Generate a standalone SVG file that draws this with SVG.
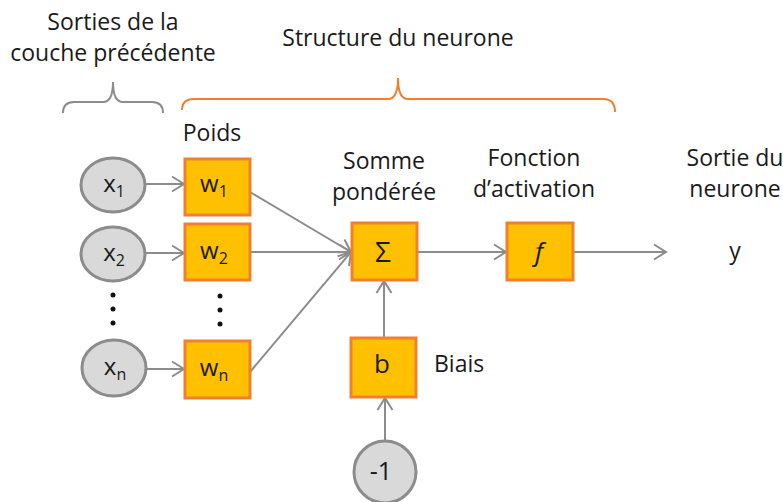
<svg xmlns="http://www.w3.org/2000/svg" width="783" height="502" viewBox="0 0 783 502">
<defs>
<marker id="ah" markerWidth="18" markerHeight="18" refX="14" refY="9" orient="auto" markerUnits="userSpaceOnUse">
<path d="M2,1.5 L14,9 L2,16.5" fill="none" stroke="#8c8c8c" stroke-width="2"/>
</marker>
<style>
.t{font-family:"Open Sans","Liberation Sans",sans-serif;font-size:23px;fill:#1a1a1a}
.n{font-family:"Open Sans","Liberation Sans",sans-serif;font-size:23px;fill:#1a1a1a;text-anchor:middle}
.v{font-family:"Open Sans","Liberation Sans",sans-serif;font-size:24px;fill:#1a1a1a;text-anchor:middle}
.s{font-size:16px}
.box{fill:#FFC000;stroke:#F08030;stroke-width:3}
.circ{fill:#D9D9D9;stroke:#8c8c8c;stroke-width:3}
.c{fill:none;stroke:#8c8c8c;stroke-width:2}
.dot{fill:#111}
</style>
</defs>
<rect width="783" height="502" fill="#fff"/>
<g id="labels">
<text class="n" x="113" y="30">Sorties de la</text>
<text class="n" x="113" y="61">couche précédente</text>
<text class="n" x="398" y="46">Structure du neurone</text>
<text class="n" x="212" y="141">Poids</text>
<text class="n" x="384" y="169">Somme</text>
<text class="n" x="384" y="200">pondérée</text>
<text class="n" x="534" y="166">Fonction</text>
<text class="n" x="534" y="197">d’activation</text>
<text class="n" x="735" y="166">Sortie du</text>
<text class="n" x="735" y="197">neurone</text>
<text class="t" x="434" y="372">Biais</text>
<text class="n" x="735" y="259">y</text>
</g>
<g id="braces">
<path d="M63,113 Q63,102 74,102 L103,102 Q113,102 113,82 Q113,102 123,102 L152,102 Q163,102 163,113" fill="none" stroke="#8c8c8c" stroke-width="2"/>
<path d="M182,110 Q182,99 194,99 L388,99 Q398,99 398,78 Q398,99 408,99 L603,99 Q615,99 615,112" fill="none" stroke="#F08030" stroke-width="2"/>
</g>
<g id="connectors">
<line class="c" x1="145" y1="184" x2="184" y2="184" marker-end="url(#ah)"/>
<line class="c" x1="145" y1="253" x2="184" y2="253" marker-end="url(#ah)"/>
<line class="c" x1="147" y1="369" x2="184" y2="369" marker-end="url(#ah)"/>
<line class="c" x1="250" y1="192" x2="351" y2="252" marker-end="url(#ah)"/>
<line class="c" x1="250" y1="252" x2="351" y2="252" marker-end="url(#ah)"/>
<line class="c" x1="250" y1="372" x2="351" y2="252" marker-end="url(#ah)"/>
<line class="c" x1="417" y1="252" x2="506" y2="252" marker-end="url(#ah)"/>
<line class="c" x1="574" y1="252" x2="666" y2="252" marker-end="url(#ah)"/>
<line class="c" x1="384" y1="338" x2="384" y2="281" marker-end="url(#ah)"/>
<line class="c" x1="385" y1="442" x2="385" y2="398" marker-end="url(#ah)"/>
</g>
<g id="x1"><ellipse class="circ" cx="113" cy="185" rx="32" ry="27"/><text class="v" x="114" y="192">x<tspan class="s" dy="5">1</tspan></text></g>
<g id="x2"><ellipse class="circ" cx="113" cy="254" rx="32" ry="27"/><text class="v" x="114" y="261">x<tspan class="s" dy="5">2</tspan></text></g>
<g id="xdots"><circle class="dot" cx="113" cy="295" r="2.5"/><circle class="dot" cx="113" cy="309" r="2.5"/><circle class="dot" cx="113" cy="323" r="2.5"/></g>
<g id="xn"><ellipse class="circ" cx="114" cy="368" rx="32" ry="28"/><text class="v" x="115" y="375">x<tspan class="s" dy="5">n</tspan></text></g>
<g id="w1"><rect class="box" x="185" y="159" width="65" height="56"/><text class="v" x="214" y="192">w<tspan class="s" dy="5">1</tspan></text></g>
<g id="w2"><rect class="box" x="185" y="224" width="65" height="56"/><text class="v" x="214" y="259">w<tspan class="s" dy="5">2</tspan></text></g>
<g id="wdots"><circle class="dot" cx="220" cy="296" r="2.5"/><circle class="dot" cx="220" cy="310" r="2.5"/><circle class="dot" cx="220" cy="324" r="2.5"/></g>
<g id="wn"><rect class="box" x="185" y="341" width="65" height="57"/><text class="v" x="214" y="376">w<tspan class="s" dy="5">n</tspan></text></g>
<g id="sum"><rect class="box" x="352" y="223" width="65" height="57"/><text class="v" x="383" y="262" style="font-size:28px">Σ</text></g>
<g id="f"><rect class="box" x="507" y="223" width="66" height="57"/><text class="v" x="539" y="261" style="font-size:26px;font-style:italic">f</text></g>
<g id="b"><rect class="box" x="351" y="338" width="65" height="59"/><text class="v" x="382" y="373" style="font-size:26px">b</text></g>
<g id="m1"><circle class="circ" cx="385" cy="472" r="31"/><text class="v" x="381" y="480" style="font-size:25px">-1</text></g>
</svg>
